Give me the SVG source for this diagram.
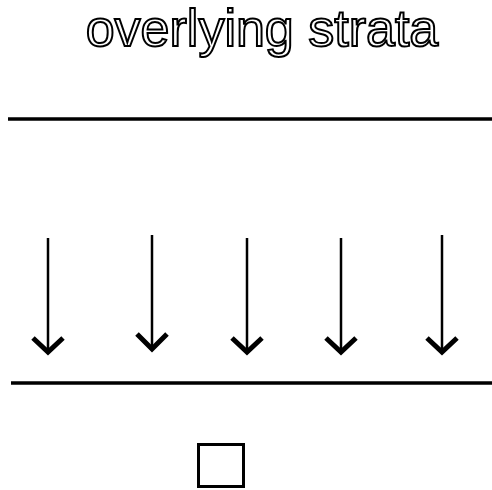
<svg xmlns="http://www.w3.org/2000/svg" width="492" height="490" viewBox="0 0 492 490">
<style>
.title{font-family:"Liberation Sans",Arial,sans-serif;font-size:52px;fill:#fff;stroke:#000;stroke-width:2;text-anchor:middle}
.layer{stroke:#000;stroke-width:3.5;fill:none}
.shaft{stroke:#000;stroke-width:2.5;fill:none}
.head{stroke:#000;stroke-width:5;fill:none;stroke-linejoin:miter}
</style>
<rect width="492" height="490" fill="#fff"/>
<text class="title" x="262" y="46">overlying strata</text>
<g id="layer-top"><line class="layer" x1="8" y1="119" x2="492" y2="119"/></g>
<g id="layer-bottom"><line class="layer" x1="11" y1="383" x2="492" y2="383"/></g>
<g id="connectors">
<line class="shaft" x1="48" y1="238" x2="48" y2="351"/><polyline class="head" points="33,338 48,352 63,338"/>
<line class="shaft" x1="152" y1="235" x2="152" y2="349"/><polyline class="head" points="137,334 152,349 167,334"/>
<line class="shaft" x1="247" y1="238" x2="247" y2="351"/><polyline class="head" points="232,338 247,352 262,338"/>
<line class="shaft" x1="341" y1="238" x2="341" y2="351"/><polyline class="head" points="326,338 341,352 356,338"/>
<line class="shaft" x1="442" y1="235" x2="442" y2="351"/><polyline class="head" points="427,338 442,352 457,338"/>
</g>
<g id="box"><rect x="198.5" y="444.5" width="45" height="42" fill="none" stroke="#000" stroke-width="3"/></g>
</svg>
